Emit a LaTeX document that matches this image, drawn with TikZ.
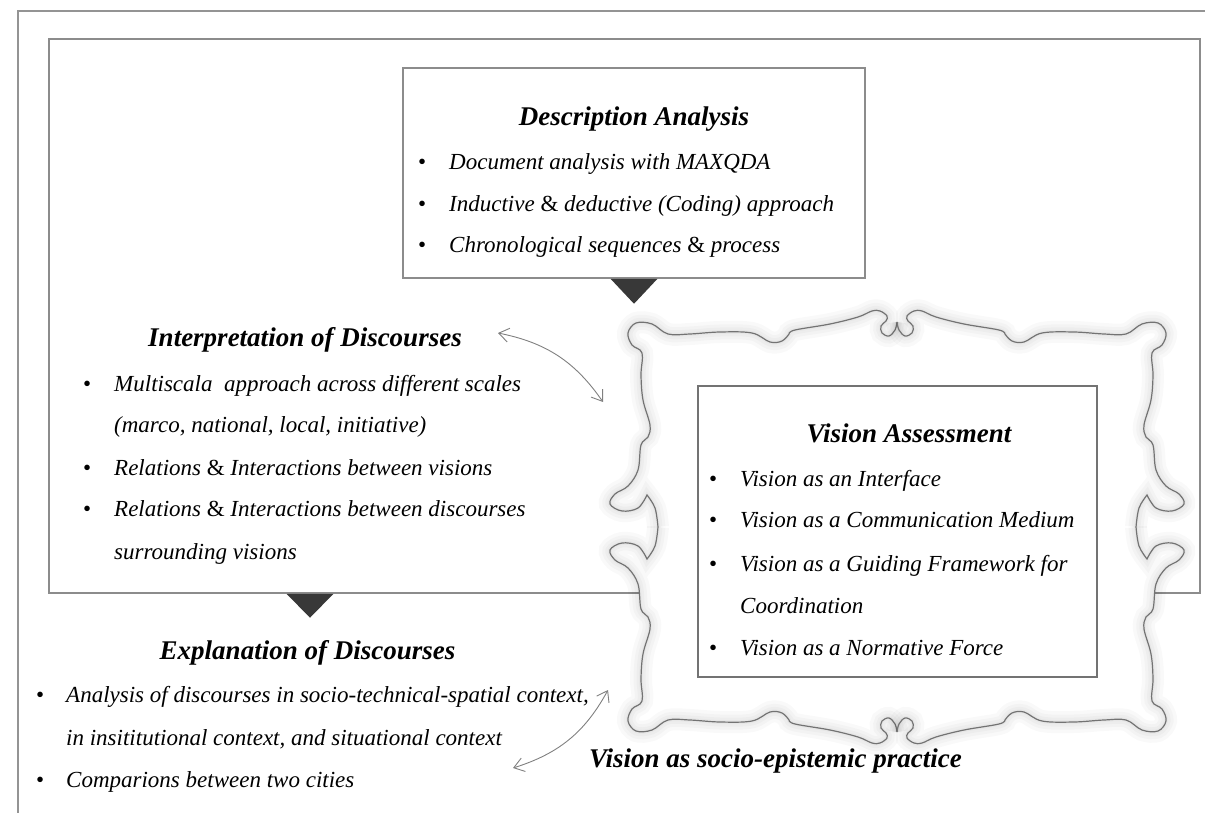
\documentclass[tikz,border=0pt]{standalone}
\usepackage{fontspec}
\setmainfont{Liberation Serif}
\usetikzlibrary{calc,arrows.meta}

% one quarter of the ornamental frame, relative to the frame centre
% #1 path options, #2 text before the outline, #3 text after it
\newcommand\QuarterPath[3]{%
  \path[#1] #2
  plot[smooth,tension=0.6] coordinates {(0,-205) (-2,-197) (-8,-191) (-15,-194) (-16,-201) (-11,-206) (-10,-211) (-17,-216) (-25,-216) (-39,-210) (-67,-203) (-102,-197) (-108,-193)}
  -- plot[smooth,tension=0.6] coordinates {(-108,-193) (-115,-186) (-127,-185) (-145,-194) (-177,-195) (-207,-193) (-229,-193) (-245,-203) (-261,-204) (-269,-194) (-265,-182) (-255,-174) (-256,-152) (-254,-127) (-247,-102) (-249,-90) (-256,-82) (-259,-57) (-269,-41) (-282,-33) (-287,-23) (-275,-16) (-259,-19) (-250,-32)}
  -- plot[smooth,tension=0.6] coordinates {(-250,-32) (-242,-19) (-239,0)} #3;}

\begin{document}
\begin{tikzpicture}[x=1pt,y=-1pt,
  rule/.style={draw=black!42, line width=1.5pt},
  panel/.style={draw=black!45, line width=1.5pt, fill=white, inner sep=0pt},
  vispanel/.style={draw=black!55, line width=2.6pt, fill=white, inner sep=0pt},
  pointer/.style={fill=black!78},
  framehalo/.style={draw=black, opacity=0.022},
  frameline/.style={draw=black!55, line width=1.2pt},
  body/.style={font=\fontsize{23}{27}\selectfont\itshape, anchor=base west, inner sep=0pt},
  dot/.style={font=\fontsize{23}{27}\selectfont, anchor=base west, inner sep=0pt},
  heading/.style={font=\fontsize{27}{32}\selectfont\bfseries\itshape, anchor=base, inner sep=0pt},
  link/.style={draw=black!50, line width=0.9pt,
    {Straight Barb[length=10pt,width=14pt]}-{Straight Barb[length=10pt,width=14pt]}}
]
\useasboundingbox (0,0) rectangle (1205,813);

% outer page rules
\coordinate (o1) at (18,11);
\coordinate (o2) at (1205,11);
\coordinate (o3) at (18,813);
\draw[rule] (o2) -- (o1) -- (o3);

% main panel
\node[panel, minimum width=1151, minimum height=554] (main) at (624.5,316) {};

% description box and its pointer
\node[panel, minimum width=462, minimum height=210] (desc) at (634,173) {};
\fill[pointer] ($(desc.south)+(-23.5,0)$) -- ($(desc.south)+(23.5,0)$) -- ($(desc.south)+(0,25)$) -- cycle;

% pointer under the main panel
\coordinate (mp) at (310,0 |- main.south);
\fill[pointer] ($(mp)+(-23.5,0)$) -- ($(mp)+(23.5,0)$) -- ($(mp)+(0,24)$) -- cycle;

% ornamental frame: white ground, soft halo, outline
\foreach \sx/\sy in {1/1,-1/1,1/-1,-1/-1}{
  \begin{scope}[shift={(897,527)}, xscale=\sx, yscale=\sy]
    \QuarterPath{fill=white}{(0,0) --}{-- cycle}
  \end{scope}}
\foreach \sx/\sy in {1/1,-1/1,1/-1,-1/-1}{
  \begin{scope}[shift={(897,527)}, xscale=\sx, yscale=\sy]
    \QuarterPath{framehalo, line width=22pt}{}{}
    \QuarterPath{framehalo, line width=15pt}{}{}
    \QuarterPath{framehalo, line width=9pt}{}{}
    \QuarterPath{framehalo, line width=4pt}{}{}
    \QuarterPath{frameline}{}{}
  \end{scope}}

% vision assessment box
\node[vispanel, minimum width=399, minimum height=291] (vis) at (897.5,531.5) {};

% description analysis
\node[heading] (dt) at (634,126) {Description Analysis};
\node[dot] (db1) at (418,169.5) {•};
\node[body] (d1) at (449,169.5) {Document analysis with MAXQDA};
\node[dot] (db2) at (418,211.5) {•};
\node[body] (d2) at (449,211.5) {Inductive {\upshape\&} deductive (Coding) approach};
\node[dot] (db3) at (418,252.5) {•};
\node[body] (d3) at (449,252.5) {Chronological sequences {\upshape\&} process};

% interpretation of discourses
\node[heading] (it) at (305,346) {Interpretation of Discourses};
\node[dot] (ib1) at (83,391.5) {•};
\node[body] (i1) at (114,391.5) {Multiscala\ \ approach across different scales};
\node[body] (i2) at (114,432.5) {(marco, national, local, initiative)};
\node[dot] (ib2) at (83,475.5) {•};
\node[body] (i3) at (114,475.5) {Relations {\upshape\&} Interactions between visions};
\node[dot] (ib3) at (83,516.5) {•};
\node[body] (i4) at (114,516.5) {Relations {\upshape\&} Interactions between discourses};
\node[body] (i5) at (114,559.5) {surrounding visions};

% vision assessment
\node[heading] (vt) at (909,442) {Vision Assessment};
\node[dot] (vb1) at (709,486.5) {•};
\node[body] (v1) at (740,486.5) {Vision as an Interface};
\node[dot] (vb2) at (709,527.5) {•};
\node[body] (v2) at (740,527.5) {Vision as a Communication Medium};
\node[dot] (vb3) at (709,571.5) {•};
\node[body] (v3) at (740,571.5) {Vision as a Guiding Framework for};
\node[body] (v4) at (740,613.5) {Coordination};
\node[dot] (vb4) at (709,655.5) {•};
\node[body] (v5) at (740,655.5) {Vision as a Normative Force};

% explanation of discourses
\node[heading] (et) at (307.5,659) {Explanation of Discourses};
\node[dot] (eb1) at (36,702.5) {•};
\node[body] (e1) at (66,702.5) {Analysis of discourses in socio-technical-spatial context,};
\node[body] (e2) at (66,745.5) {in insititutional context, and situational context};
\node[dot] (eb2) at (36,787.5) {•};
\node[body] (e3) at (66,787.5) {Comparions between two cities};

% frame caption
\node[heading, anchor=base west] (st) at (589,767) {Vision as socio-epistemic practice};

% double-headed links to the frame
\coordinate (ia) at (498,333);
\coordinate (ib) at (603,402);
\draw[link] (ia) to[bend left=22] (ib);
\coordinate (ea) at (608,690);
\coordinate (eb) at (513,768);
\draw[link] (ea) to[bend left=22] (eb);
\end{tikzpicture}
\end{document}
